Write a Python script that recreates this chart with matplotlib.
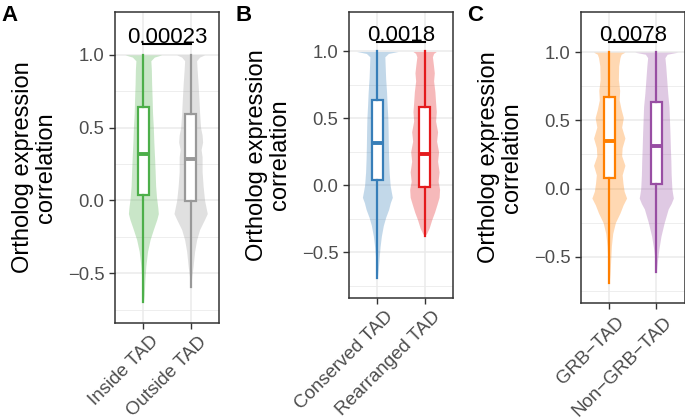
import numpy as np
import matplotlib
matplotlib.use('Agg')
import matplotlib.pyplot as plt
import matplotlib.transforms as mtransforms

plt.rcParams['font.family'] = ['Liberation Sans', 'DejaVu Sans']

# ---- data ----
# violin outlines: correlation level and half width (pixels at 47.4 px per category)
inside_y = [1.0, 0.985, 0.96, 0.9, 0.8, 0.7, 0.6, 0.5, 0.4, 0.3, 0.2, 0.1, 0.02, -0.05, -0.09, -0.13, -0.2, -0.27, -0.35, -0.45, -0.55, -0.65, -0.70]
inside_w = [18.3, 11, 7.5, 8.0, 8.3, 8.8, 9.2, 10, 10.5, 11.2, 11.8, 12.3, 13.2, 14.5, 15, 13.5, 10, 6.7, 4.2, 2.5, 1.5, 0.8, 0]
outside_y = [1.0, 0.985, 0.96, 0.9, 0.8, 0.7, 0.6, 0.5, 0.45, 0.4, 0.35, 0.3, 0.2, 0.1, 0.0, -0.05, -0.09, -0.13, -0.2, -0.27, -0.35, -0.45, -0.52, -0.6]
outside_w = [14, 9, 6, 6.5, 7.5, 8.3, 9, 10, 11.5, 12, 10.5, 11.5, 11.5, 12.5, 14, 15.5, 16.7, 14, 9, 6, 4, 2.5, 1.2, 0]

conserved_y = [1.0, 0.985, 0.96, 0.9, 0.8, 0.7, 0.6, 0.5, 0.4, 0.3, 0.2, 0.1, 0.0, -0.05, -0.09, -0.13, -0.18, -0.24, -0.3, -0.38, -0.46, -0.55, -0.63, -0.69]
conserved_w = [20.8, 11, 7.5, 7.8, 8.3, 9.2, 9.8, 10.5, 10.8, 11, 11.3, 11.8, 12.8, 14, 15, 13, 11.3, 8.3, 6, 4, 2.7, 1.7, 0.8, 0]
rearranged_y = [1.0, 0.985, 0.96, 0.9, 0.84, 0.78, 0.7, 0.62, 0.55, 0.48, 0.4, 0.33, 0.25, 0.18, 0.1, 0.03, -0.03, -0.09, -0.14, -0.2, -0.26, -0.32, -0.36, -0.38]
rearranged_w = [11.7, 9, 7.8, 8.8, 9.7, 9.0, 10.3, 11, 11.7, 11, 13, 12, 14, 13, 14.5, 13.5, 15, 14.5, 12.5, 10, 7, 4.5, 2.0, 0]

grb_y = [1.0, 0.985, 0.96, 0.9, 0.8, 0.72, 0.65, 0.58, 0.52, 0.45, 0.37, 0.3, 0.24, 0.17, 0.1, 0.04, -0.02, -0.07, -0.12, -0.18, -0.25, -0.33, -0.42, -0.52, -0.62, -0.69]
grb_w = [15.8, 12, 10.8, 9.5, 9.2, 10.5, 10, 12, 14.2, 12.5, 15.8, 13, 12.5, 15.8, 13, 13.8, 15, 17.5, 14, 10.8, 6.2, 3.5, 2.2, 1.5, 0.8, 0]
nongrb_y = [1.0, 0.985, 0.96, 0.9, 0.8, 0.7, 0.6, 0.5, 0.4, 0.3, 0.2, 0.1, 0.0, -0.04, -0.07, -0.11, -0.15, -0.2, -0.25, -0.35, -0.45, -0.53, -0.61]
nongrb_w = [21.7, 11, 8.7, 9.5, 10.5, 11.5, 12.8, 13.3, 13.8, 14.2, 14.7, 15, 15.7, 16.5, 17.2, 15, 12, 10, 8, 4.7, 2.5, 1.2, 0]

# box stats: q1, median, q3, lower whisker, upper whisker
inside_box = [0.036, 0.316, 0.639, -0.696, 1.0]
outside_box = [-0.007, 0.282, 0.593, -0.593, 1.0]
conserved_box = [0.037, 0.317, 0.641, -0.693, 1.0]
rearranged_box = [-0.012, 0.237, 0.584, -0.382, 1.0]
grb_box = [0.076, 0.351, 0.672, -0.691, 1.0]
nongrb_box = [0.035, 0.309, 0.637, -0.61, 1.0]

labels_a = ['Inside TAD', 'Outside TAD']
labels_b = ['Conserved TAD', 'Rearranged TAD']
labels_c = ['GRB\u2212TAD', 'Non\u2212GRB\u2212TAD']
pvals = ['0.00023', '0.0018', '0.0078']

panels = [
    dict(letter='A', rect=[0.1679, 0.2298, 0.1518, 0.7416], labels=labels_a,
         violins=[(inside_y, inside_w), (outside_y, outside_w)],
         boxes=[inside_box, outside_box], colors=['#4DAF4A', '#999999'], p=pvals[0]),
    dict(letter='B', rect=[0.5095, 0.2895, 0.1518, 0.6819], labels=labels_b,
         violins=[(conserved_y, conserved_w), (rearranged_y, rearranged_w)],
         boxes=[conserved_box, rearranged_box], colors=['#377EB8', '#E41A1C'], p=pvals[1]),
    dict(letter='C', rect=[0.8482, 0.2768, 0.1511, 0.6946], labels=labels_c,
         violins=[(grb_y, grb_w), (nongrb_y, nongrb_w)],
         boxes=[grb_box, nongrb_box], colors=['#FF7F00', '#984EA3'], p=pvals[2]),
]

PX_PER_CAT = 47.4

fig = plt.figure(figsize=(6.85, 4.19), dpi=100)

for pan in panels:
    ax = fig.add_axes(pan['rect'])
    ax.set_xlim(0.4, 2.6)
    ax.set_ylim(-0.84, 1.295)
    ax.set_yticks([-0.5, 0.0, 0.5, 1.0])
    ax.set_yticks([-0.75, -0.25, 0.25, 0.75], minor=True)
    ax.set_xticks([1, 2])
    ax.grid(True, which='major', color='#EBEBEB', lw=1.1, zorder=0)
    ax.grid(True, which='minor', axis='y', color='#EBEBEB', lw=0.6, zorder=0)
    ax.set_axisbelow(True)
    for sp in ax.spines.values():
        sp.set_color('#333333')
        sp.set_linewidth(1.1)
    ax.tick_params(axis='both', which='major', length=4, width=1.0, color='#333333',
                   labelcolor='#4D4D4D', labelsize=13.3, pad=3.5)
    ax.tick_params(axis='y', which='minor', length=0)

    for i, ((vy, vw), col) in enumerate(zip(pan['violins'], pan['colors'])):
        pos = i + 1
        half = np.array(vw) / PX_PER_CAT
        ax.fill_betweenx(vy, pos - half, pos + half, color=col, alpha=0.3, lw=0, zorder=2)

    stats = [dict(q1=b[0], med=b[1], q3=b[2], whislo=b[3], whishi=b[4], fliers=[])
             for b in pan['boxes']]
    bp = ax.bxp(stats, positions=[1, 2], widths=0.225, patch_artist=True,
                showfliers=False, showcaps=False, manage_ticks=False, zorder=3)
    for i, col in enumerate(pan['colors']):
        bp['boxes'][i].set(facecolor='white', edgecolor=col, linewidth=1.6)
        bp['medians'][i].set(color=col, linewidth=2.8, solid_capstyle='butt')
        for w in bp['whiskers'][2 * i:2 * i + 2]:
            w.set(color=col, linewidth=1.6)

    ax.set_xticklabels(pan['labels'], rotation=45, ha='right', va='top',
                       rotation_mode='anchor', fontsize=13.5)
    offset = mtransforms.ScaledTranslation(5 / 72, 0, fig.dpi_scale_trans)
    for lab in ax.get_xticklabels():
        lab.set_transform(lab.get_transform() + offset)

    ax.set_ylabel('Ortholog expression\ncorrelation', fontsize=17, color='black',
                  va='center', linespacing=1.05)
    ax.yaxis.set_label_coords(-80.5 / 104, 0.5)

    # significance bracket
    ax.plot([1, 2], [1.072, 1.072], color='black', lw=1.5, clip_on=False, zorder=4)
    ax.text(1.5, 1.08, pan['p'], ha='center', va='baseline', fontsize=16, color='black')

    x0 = pan['rect'][0] * 685
    fig.text((x0 - 114) / 685, 1 - 5 / 419, pan['letter'], fontsize=16,
             fontweight='bold', ha='left', va='top')

fig.savefig('out.png', dpi=100)
